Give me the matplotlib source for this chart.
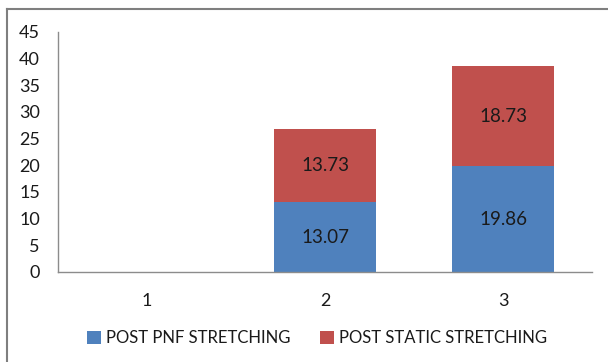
import matplotlib.pyplot as plt
from matplotlib.lines import Line2D

categories = ["1", "2", "3"]
post_pnf = [0, 13.07, 19.86]
post_static = [0, 13.73, 18.73]
series_names = ["POST PNF STRETCHING", "POST STATIC STRETCHING"]
yticks = [0, 5, 10, 15, 20, 25, 30, 35, 40, 45]

blue = "#4F81BD"
red = "#C0504D"
plt.rcParams["font.family"] = ["Lato", "DejaVu Sans"]

fig = plt.figure(figsize=(6.08, 3.62), dpi=100)
ax = fig.add_axes([58 / 608, 1 - 272 / 362, 534 / 608, 240 / 362])

x = list(range(len(categories)))
b1 = ax.bar(x, post_pnf, width=0.57, color=blue, label=series_names[0])
b2 = ax.bar(x, post_static, width=0.57, bottom=post_pnf, color=red, label=series_names[1])
ax.bar_label(b1, labels=[f"{v:.2f}" if v else "" for v in post_pnf],
             label_type="center", fontsize=13.5, color="#1a1a1a")
ax.bar_label(b2, labels=[f"{v:.2f}" if v else "" for v in post_static],
             label_type="center", fontsize=13.5, color="#1a1a1a")

ax.set_xlim(-0.5, 2.5)
ax.set_ylim(0, 45)
ax.set_yticks(yticks)
ax.set_xticks(x, categories)
ax.tick_params(axis="y", length=0, pad=13, labelsize=13, labelcolor="#1a1a1a")
ax.tick_params(axis="x", length=0, pad=15, labelsize=13, labelcolor="#1a1a1a")
for side in ["top", "right"]:
    ax.spines[side].set_visible(False)
for side in ["left", "bottom"]:
    ax.spines[side].set_color("#8c8c8c")
    ax.spines[side].set_linewidth(1.0)

ax.legend(loc="center", bbox_to_anchor=(317 / 608, 1 - 338 / 362),
          bbox_transform=fig.transFigure, ncol=2, frameon=False,
          fontsize=12, handlelength=0.8, handleheight=0.8,
          handletextpad=0.3, columnspacing=1.8, labelcolor="#1a1a1a")

# outer chart frame
fig.add_artist(Line2D([7 / 608, 1], [1 - 9 / 362, 1 - 9 / 362],
                      transform=fig.transFigure, color="#7f7f7f", lw=1.5))
fig.add_artist(Line2D([7 / 608, 7 / 608], [0, 1 - 9 / 362],
                      transform=fig.transFigure, color="#7f7f7f", lw=1.5))

fig.savefig("out.png", dpi=100)
